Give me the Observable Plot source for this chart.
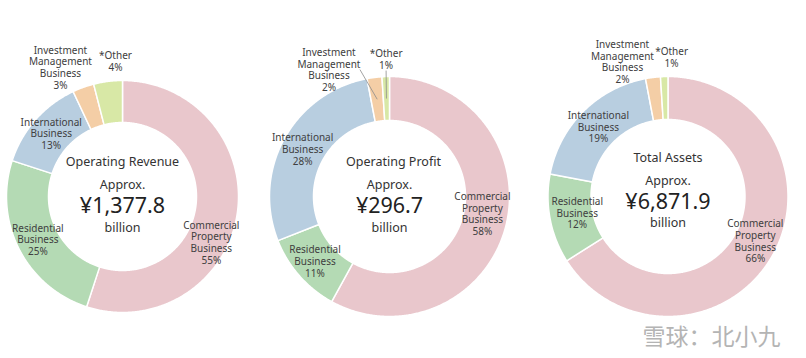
<!DOCTYPE html>
<html>
<head>
<meta charset="utf-8">
<script src="https://cdn.jsdelivr.net/npm/d3@7"></script>
<script src="https://cdn.jsdelivr.net/npm/@observablehq/plot@0.6"></script>
<style>
  html, body { margin: 0; padding: 0; background: #ffffff; }
  #chart svg { display: block; }
</style>
</head>
<body>
<div id="chart"></div>
<script>
// ---------------- data ----------------
const segments = ["Commercial Property Business", "Residential Business", "International Business", "Investment Management Business", "*Other"];
const segmentLabelLines = ["Commercial\nProperty\nBusiness", "Residential\nBusiness", "International\nBusiness", "Investment\nManagement\nBusiness", "*Other"];
const metrics = ["Operating Revenue", "Operating Profit", "Total Assets"];
const totalsText = ["¥1,377.8", "¥296.7", "¥6,871.9"];
const operatingRevenueShare = [55, 25, 13, 3, 4];
const operatingProfitShare = [58, 11, 28, 2, 1];
const totalAssetsShare = [66, 12, 19, 2, 1];
const segmentColors = ["#e9c7cc", "#b4dab4", "#b8cee0", "#f4cea6", "#d8e8a6"];
const watermark = "雪球：北小九";

// ---------------- layout (pixels) ----------------
const W = 806, H = 358;
const donuts = [
  {cx: 122, cy: 196, R: 116, r: 74, textShift: 0, titleDx: 0},
  {cx: 389, cy: 196, R: 120, r: 76, textShift: 0, titleDx: 4},
  {cx: 667.5, cy: 196, R: 120, r: 77, textShift: -4.5, titleDx: 0}
];
// manual label nudges (as placed in the original), [dx, dy] per chart per segment
const labelNudge = [
  [[-5, 31], [0, 0], [0, 0], [-16, -1], [10, 0]],
  [[-2, -7], [-1, 0], [-1, 0], [-43, 12], [1, 3]],
  [[1, -3], [6, -2], [0, 0], [-28, 4], [8, 1]]
];
const leaders = [{chart: 1, seg: 3, from: [31, 0]}, {chart: 1, seg: 4, from: [0, 11]}];

// ---------------- geometry ----------------
const shareSets = [operatingRevenueShare, operatingProfitShare, totalAssetsShare];
const ringPoints = [];
const labels = [];
const slices = [];
shareSets.forEach((shares, ci) => {
  const {cx, cy, R, r} = donuts[ci];
  const total = d3.sum(shares);
  let acc = 0;
  shares.forEach((v, si) => {
    const a0 = acc / total * 2 * Math.PI;
    const a1 = (acc + v) / total * 2 * Math.PI;
    acc += v;
    const n = Math.max(2, Math.ceil((a1 - a0) / (Math.PI / 360)));
    const key = ci + "-" + si;
    const pts = [];
    for (let k = 0; k <= n; k++) { const a = a0 + (a1 - a0) * k / n; pts.push([cx + R * Math.sin(a), cy - R * Math.cos(a)]); }
    for (let k = n; k >= 0; k--) { const a = a0 + (a1 - a0) * k / n; pts.push([cx + r * Math.sin(a), cy - r * Math.cos(a)]); }
    pts.push(pts[0]);
    pts.forEach(([x, y]) => ringPoints.push({x, y, key, segment: segments[si]}));
    const mid = (a0 + a1) / 2;
    const small = v / total < 0.05;
    const lr = small ? R + 20 : (R + r) / 2;
    const cr = (R + r) / 2;
    const [ndx, ndy] = labelNudge[ci][si];
    const lab = {
      x: cx + lr * Math.sin(mid) + ndx,
      y: cy - lr * Math.cos(mid) + ndy,
      text: segmentLabelLines[si] + "\n" + v + "%"
    };
    labels.push(lab);
    slices.push({ci, si, lab, cxp: cx + cr * Math.sin(mid), cyp: cy - cr * Math.cos(mid)});
  });
});

const leaderLinks = leaders.map(({chart, seg, from}) => {
  const s = slices.find(d => d.ci === chart && d.si === seg);
  return {x1: s.lab.x + from[0], y1: s.lab.y + from[1], x2: s.cxp, y2: s.cyp};
});

const centerText = [];
donuts.forEach((d, ci) => {
  const y0 = d.cy + d.textShift;
  centerText.push({x: d.cx + d.titleDx, y: y0 - 34.5, t: metrics[ci], size: 12.5});
  centerText.push({x: d.cx, y: y0 - 11.5, t: "Approx.", size: 12.5});
  centerText.push({x: d.cx, y: y0 + 10, t: totalsText[ci], size: 21.5});
  centerText.push({x: d.cx, y: y0 + 31, t: "billion", size: 12.5});
});

const font = "'Noto Sans', 'Liberation Sans', Arial, sans-serif";

const chart = Plot.plot({
  width: W,
  height: H,
  margin: 0,
  x: {domain: [0, W], axis: null},
  y: {domain: [H, 0], axis: null},
  color: {domain: segments, range: segmentColors},
  style: {fontFamily: font, background: "#ffffff"},
  marks: [
    Plot.line(ringPoints, {x: "x", y: "y", z: "key", fill: "segment", stroke: "#ffffff", strokeWidth: 1.5, curve: "linear"}),
    Plot.link(leaderLinks, {x1: "x1", y1: "y1", x2: "x2", y2: "y2", stroke: "#8c8c8c", strokeWidth: 0.8}),
    Plot.text(labels, {x: "x", y: "y", text: "text", fontSize: 10, lineHeight: 1.17, fill: "#404040", textAnchor: "middle", lineAnchor: "middle", fontFamily: font}),
    ...[12.5, 21.5].map(sz => Plot.text(centerText.filter(d => d.size === sz), {x: "x", y: "y", text: "t", fontSize: sz, fill: sz > 20 ? "#222222" : "#333333", textAnchor: "middle", lineAnchor: "middle", fontFamily: font})),
    Plot.text([watermark], {frameAnchor: "bottom-right", text: d => d, dx: -26, dy: -14, fontSize: 23, fill: "#b4b4b4", stroke: "#ffffff", strokeWidth: 1.5, fontFamily: "'Noto Sans CJK SC', sans-serif", textAnchor: "end", lineAnchor: "bottom"})
  ]
});
document.getElementById("chart").appendChild(chart);
</script>
</body>
</html>
